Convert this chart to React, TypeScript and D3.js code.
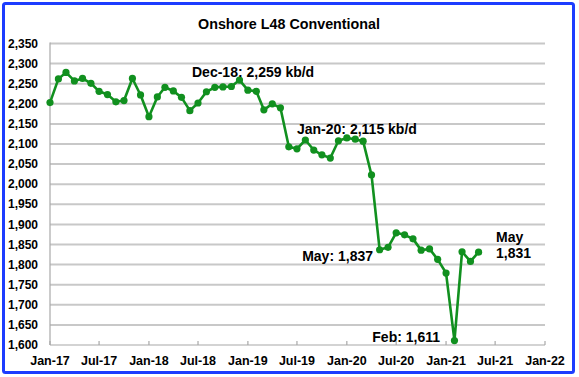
import React from "react";
import * as d3 from "d3";

const months: string[] = [
  "2017-01","2017-02","2017-03","2017-04","2017-05","2017-06","2017-07","2017-08","2017-09","2017-10","2017-11","2017-12",
  "2018-01","2018-02","2018-03","2018-04","2018-05","2018-06","2018-07","2018-08","2018-09","2018-10","2018-11","2018-12",
  "2019-01","2019-02","2019-03","2019-04","2019-05","2019-06","2019-07","2019-08","2019-09","2019-10","2019-11","2019-12",
  "2020-01","2020-02","2020-03","2020-04","2020-05","2020-06","2020-07","2020-08","2020-09","2020-10","2020-11","2020-12",
  "2021-01","2021-02","2021-03","2021-04","2021-05",
];
const production: number[] = [
  2203, 2262, 2278, 2257, 2263, 2251, 2231, 2223, 2205, 2208, 2263, 2222,
  2168, 2217, 2241, 2232, 2216, 2183, 2202, 2230, 2241, 2242, 2243, 2259,
  2234, 2231, 2185, 2200, 2190, 2093, 2088, 2110, 2085, 2073, 2065, 2108,
  2115, 2112, 2107, 2023, 1837, 1843, 1879, 1874, 1864, 1836, 1839, 1813,
  1779, 1611, 1832, 1808, 1831,
];
const yTicks: number[] = d3.range(1600, 2351, 50);
const xTickLabels: string[] = ["Jan-17","Jul-17","Jan-18","Jul-18","Jan-19","Jul-19","Jan-20","Jul-20","Jan-21","Jul-21","Jan-22"];
const title = "Onshore L48 Conventional";
const annotations = [
  { lines: ["Dec-18: 2,259 kb/d"], x: 192, y: 77, anchor: "start" },
  { lines: ["Jan-20: 2,115 kb/d"], x: 297, y: 134, anchor: "start" },
  { lines: ["May: 1,837"], x: 373, y: 261, anchor: "end" },
  { lines: ["Feb: 1,611"], x: 440, y: 342, anchor: "end" },
  { lines: ["May", "1,831"], x: 496, y: 242, anchor: "start" },
];

const W = 579, H = 377;
const L = 50, R = 545, T = 43.5, B = 345;
const FONT = "'Liberation Sans', Arial, Helvetica, sans-serif";

export default function App() {
  const parse = d3.timeParse("%Y-%m");
  const dates = months.map((m) => parse(m) as Date);
  const x = d3.scaleTime().domain([new Date(2017, 0, 1), new Date(2022, 0, 1)]).range([L, R]);
  const y = d3.scaleLinear().domain([1600, 2350]).range([B, T]);
  const xTicks = xTickLabels.map((_, i) => d3.timeMonth.offset(new Date(2017, 0, 1), i * 6));
  const data = dates.map((d, i) => ({ d, v: production[i] }));
  const line = d3.line<{ d: Date; v: number }>().x((p) => x(p.d)).y((p) => y(p.v));

  return (
    <svg width={W} height={H} style={{ position: "absolute", left: 0, top: 0 }} fontFamily={FONT}>
      <rect x={0} y={0} width={W} height={H} fill="#fff" />
      <rect x={3.5} y={3.5} width={570} height={369} fill="#fff" stroke="#1c3cff" strokeWidth={3} rx={2} />
      <text x={289} y={29} textAnchor="middle" fontWeight="bold" fontSize={14.3} fill="#000">{title}</text>
      {yTicks.map((t) => (
        <g key={t}>
          {t > 1600 && <line x1={L} x2={R} y1={y(t)} y2={y(t)} stroke="#c8c8c8" strokeWidth={2} />}
          <text x={38} y={y(t) + 1} textAnchor="end" dominantBaseline="middle" fontWeight="bold" fontSize={12} fill="#000">
            {d3.format(",")(t)}
          </text>
        </g>
      ))}
      <line x1={L} x2={L} y1={T - 1} y2={B} stroke="#a8a8a8" strokeWidth={1.2} />
      <line x1={L} x2={R} y1={B} y2={B} stroke="#a8a8a8" strokeWidth={1.2} />
      {xTicks.map((t, i) => (
        <g key={i}>
          <line x1={x(t)} x2={x(t)} y1={B} y2={B - 4} stroke="#a8a8a8" strokeWidth={1.2} />
          <text x={x(t)} y={365} textAnchor="middle" fontWeight="bold" fontSize={12.5} fill="#000">
            {xTickLabels[i]}
          </text>
        </g>
      ))}
      <path d={line(data) || ""} fill="none" stroke="#11901f" strokeWidth={2.6} strokeLinejoin="round" />
      {data.map((p, i) => (
        <circle key={i} cx={x(p.d)} cy={y(p.v)} r={3.6} fill="#11901f" />
      ))}
      {annotations.map((a, i) => (
        <text key={i} x={a.x} y={a.y} textAnchor={a.anchor as any} fontWeight="bold" fontSize={14} fill="#000">
          {a.lines.map((ln, j) => (
            <tspan key={j} x={a.x} dy={j === 0 ? 0 : 16}>{ln}</tspan>
          ))}
        </text>
      ))}
    </svg>
  );
}
